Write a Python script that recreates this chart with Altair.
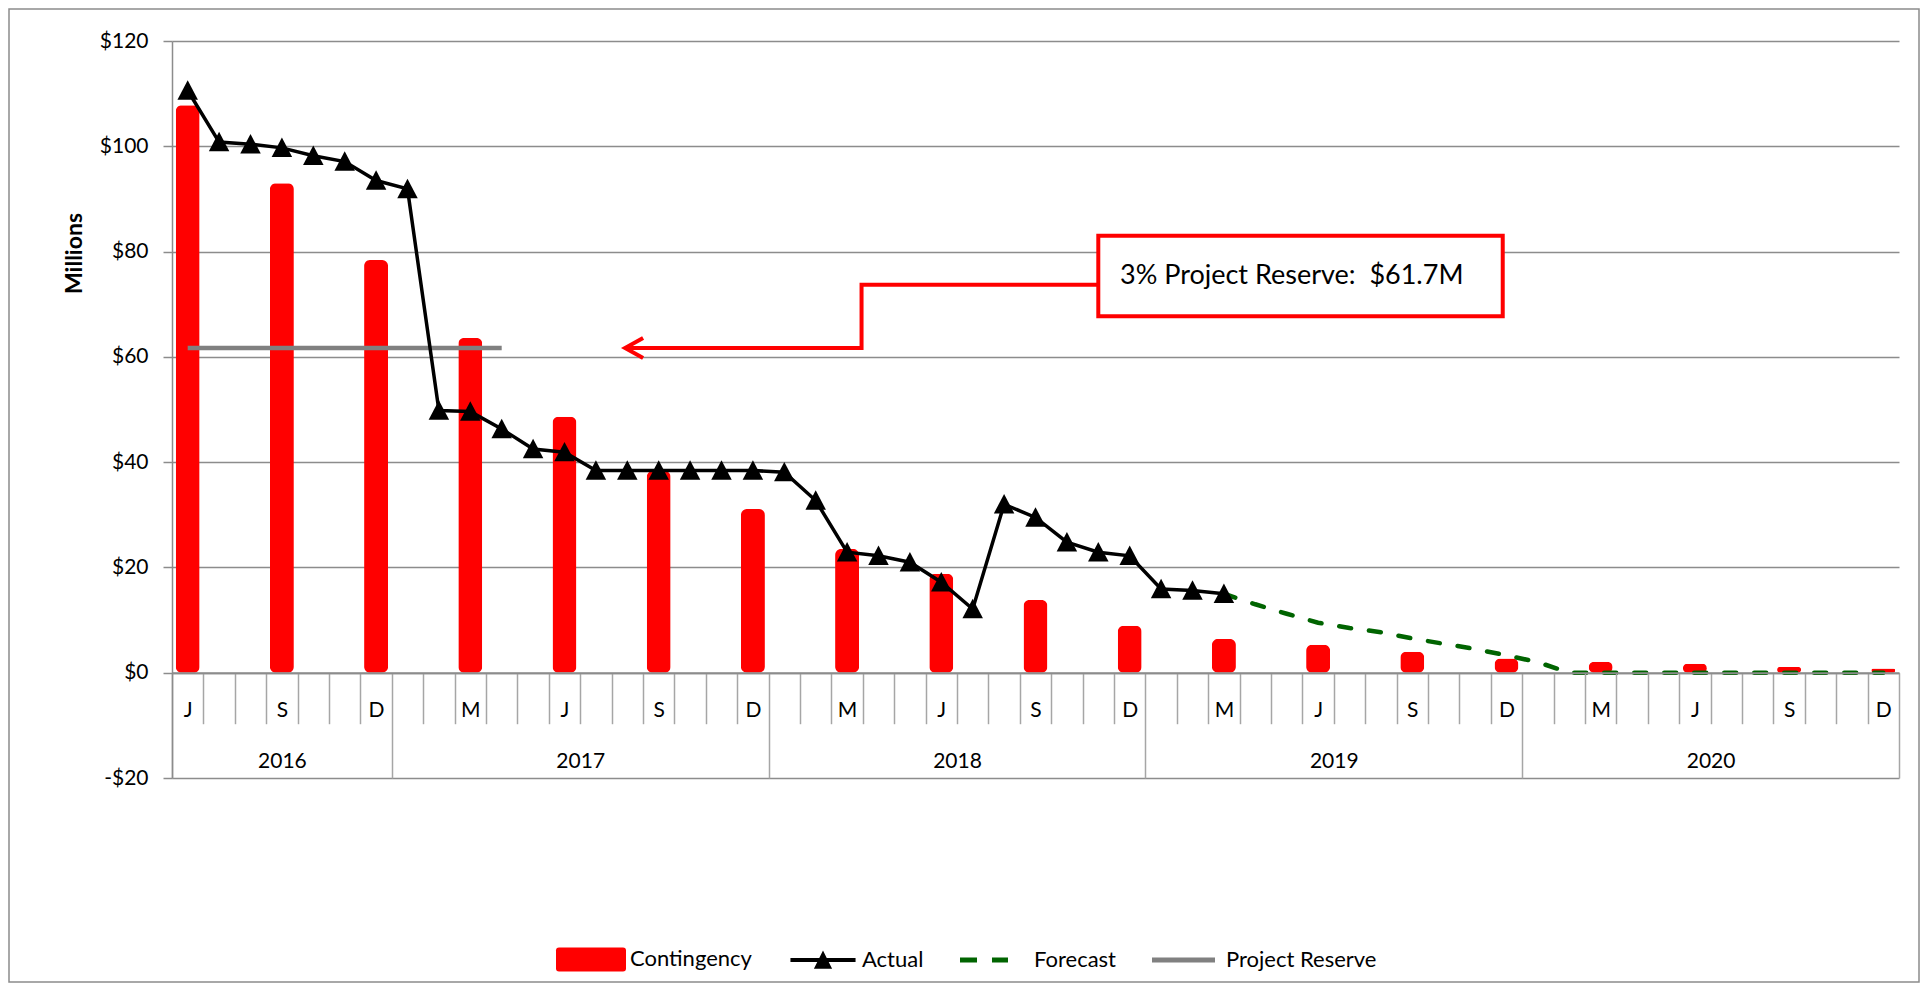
import altair as alt
import pandas as pd

# ---------------- data ----------------
# month index 0 = Jun 2016 ... 54 = Dec 2020
month_letters = ["J", "S", "D", "M", "J", "S", "D", "M", "J", "S", "D",
                 "M", "J", "S", "D", "M", "J", "S", "D"]          # every 3rd month from Jun 2016
years = ["2016", "2017", "2018", "2019", "2020"]
year_months = [7, 12, 12, 12, 12]

contingency = [107.8, 93.0, 78.4, 63.6, 48.6, 38.3, 31.1, 23.5, 18.8, 13.8,
               8.9, 6.4, 5.3, 4.0, 2.7, 2.1, 1.7, 1.1, 0.8]      # quarterly, from Jun 2016
actual = [110.6, 100.8, 100.4, 99.7, 98.2, 97.1, 93.5, 91.9, 49.8, 49.6,
          46.3, 42.5, 41.9, 38.4, 38.4, 38.4, 38.4, 38.4, 38.4, 38.1,
          32.7, 22.9, 22.2, 21.0, 17.2, 12.1, 32.0, 29.5, 24.8, 22.9,
          22.2, 15.9, 15.6, 15.0]                                 # monthly Jun 2016 .. Mar 2019
forecast_start = 33
forecast = [15.0, 13.0, 11.2, 9.5, 8.5, 7.7, 6.5, 5.5, 4.5, 3.3, 2.0, 0.0,
            0.0, 0.0, 0.0, 0.0, 0.0, 0.0, 0.0, 0.0, 0.0, 0.0]      # monthly Mar 2019 .. Dec 2020
reserve_value = 61.7
reserve_months = 11                                               # Jun 2016 .. Apr 2017
series_names = ["Contingency", "Actual", "Forecast", "Project Reserve"]
annotation_text = "3% Project Reserve:\u00a0 $61.7M"

# ---------------- tables ----------------
N_MONTHS = sum(year_months)
bars_df = pd.DataFrame({"pos": [i * 3 + 0.5 for i in range(len(contingency))], "value": contingency})
actual_df = pd.DataFrame({"pos": [i + 0.5 for i in range(len(actual))], "value": actual})
forecast_df = pd.DataFrame({"pos": [forecast_start + i + 0.5 for i in range(len(forecast))], "value": forecast})
reserve_df = pd.DataFrame({"pos": [i + 0.5 for i in range(reserve_months)], "value": [reserve_value] * reserve_months})

bounds = [0]
for m in year_months:
    bounds.append(bounds[-1] + m)
year_centers = [(bounds[i] + bounds[i + 1]) / 2 for i in range(len(years))]

# ---------------- geometry ----------------
W, H = 1727, 737
PAD_L, PAD_T, PAD_R, PAD_B = 164, 33, 21, 205
SVG_W, SVG_H = PAD_L + W + PAD_R, PAD_T + H + PAD_B
YMIN, YMAX = -20, 120
OFF = -H * (0 - YMIN) / (YMAX - YMIN)

xscale = alt.Scale(domain=[0, N_MONTHS], nice=False, zero=False, padding=0)
yscale = alt.Scale(domain=[YMIN, YMAX], nice=False, zero=False, padding=0)
GRID = "#8c8c8c"
TICK = "#a6a6a6"
FONT = "Lato"

month_tick_vals = [v for v in range(1, N_MONTHS) if v not in bounds]
axis_month_ticks = alt.Axis(orient="bottom", offset=OFF, values=month_tick_vals, tickSize=51,
                            tickColor=TICK, tickWidth=1.5, domain=True, domainColor=GRID,
                            domainWidth=2, labels=False, grid=False, title=None, zindex=1)
axis_year_sep = alt.Axis(orient="bottom", offset=OFF, values=bounds, tickSize=-OFF,
                         tickColor=TICK, tickWidth=1.5, domain=False, labels=False,
                         grid=False, title=None)
month_label_vals = [i * 3 + 0.5 for i in range(len(month_letters))]
month_expr = "[" + ",".join("'%s'" % m for m in month_letters) + "][round((datum.value - 0.5) / 3)]"
axis_month_labels = alt.Axis(orient="bottom", offset=OFF, values=month_label_vals, ticks=False,
                             tickSize=0, domain=False, grid=False, title=None, labelExpr=month_expr,
                             labelPadding=38, labelBaseline="middle", labelFontSize=21,
                             labelOverlap=False, labelFlush=False, labelColor="black")
year_expr = ""
for c, y in zip(year_centers, years):
    year_expr += "datum.value == %s ? '%s' : " % (c, y)
year_expr += "''"
axis_year_labels = alt.Axis(orient="bottom", offset=OFF, values=year_centers, ticks=False,
                            tickSize=0, domain=False, grid=False, title=None, labelExpr=year_expr,
                            labelPadding=89, labelBaseline="middle", labelFontSize=21,
                            labelOverlap=False, labelFlush=False, labelColor="black")
yaxis = alt.Axis(values=list(range(YMIN, YMAX + 1, 20)),
                 labelExpr="datum.value < 0 ? '-$' + abs(datum.value) : '$' + datum.value",
                 tickSize=9, tickColor=GRID, tickWidth=1.5, domainColor=GRID, domainWidth=1.5,
                 grid=True, gridColor=GRID, gridWidth=1.5, labelPadding=15, labelFontSize=21,
                 labelColor="black", title="Millions", titleFontSize=23, titleFontWeight="bold",
                 titleX=-98, titleY=212, titleBaseline="middle", titleAngle=-90, titleColor="black")

def X(field, axis=None):
    return alt.X(field, type="quantitative", scale=xscale, axis=axis)

def Y(field):
    return alt.Y(field, type="quantitative", scale=yscale, axis=yaxis)

# ---------------- layers ----------------
frame = alt.Chart(pd.DataFrame({"a": [0]})).mark_rect(
    fill="transparent", stroke=GRID, strokeWidth=1.5).encode(
    x=alt.value(1 - PAD_L), x2=alt.value(SVG_W - 1 - PAD_L),
    y=alt.value(1 - PAD_T), y2=alt.value(SVG_H - 1 - PAD_T))

bars = alt.Chart(bars_df).mark_bar(size=24, color="#ff0000", cornerRadius=6, y2Offset=6).encode(
    x=X("pos", axis_month_ticks), y=Y("value"))

reserve = alt.Chart(reserve_df).mark_line(color="#808080", strokeWidth=4.5).encode(
    x=X("pos", axis_year_labels), y=Y("value"))

fc = alt.Chart(forecast_df).mark_line(color="#006400", strokeWidth=4.5, strokeDash=[12, 18],
                                      strokeCap="round").encode(
    x=X("pos", axis_month_labels), y=Y("value"))

act_line = alt.Chart(actual_df).mark_line(color="black", strokeWidth=3.5).encode(
    x=X("pos", axis_year_sep), y=Y("value"))

act_pts = alt.Chart(actual_df).mark_point(shape="M0,-1L1,0.9L-1,0.9Z", size=420, filled=True,
                                          color="black", opacity=1).encode(
    x=X("pos"), y=Y("value"))

# annotation (in data units)
box_df = pd.DataFrame({"x": [29.5], "x2": [42.38], "y": [83.0], "y2": [67.7]})
box = alt.Chart(box_df).mark_rect(fill="white", stroke="#ff0000", strokeWidth=4).encode(
    x=X("x"), x2="x2", y=Y("y"), y2="y2")
arrow_df = pd.DataFrame({"x": [29.5, 21.96, 21.96, 14.43],
                         "y": [73.7, 73.7, reserve_value, reserve_value],
                         "o": [0, 1, 2, 3]})
arrow = alt.Chart(arrow_df).mark_line(color="#ff0000", strokeWidth=4, strokeJoin="miter").encode(
    x=X("x"), y=Y("y"), order="o:Q")
head = alt.Chart(arrow_df.iloc[[3]]).mark_point(shape="M1,-0.556L0,0L1,0.556", size=1296,
                                               filled=False, color="#ff0000", strokeWidth=4,
                                               opacity=1).encode(x=X("x"), y=Y("y"))
txt_df = pd.DataFrame({"x": [30.19], "y": [75.4], "t": [annotation_text]})
txt = alt.Chart(txt_df).mark_text(align="left", baseline="middle", fontSize=27, font=FONT,
                                  color="black").encode(x=X("x"), y=Y("y"), text="t:N")

# legend
leg_paths = [
    "M-0.914,-0.343L0.914,-0.343Q1,-0.343 1,-0.257L1,0.257Q1,0.343 0.914,0.343L-0.914,0.343Q-1,0.343 -1,0.257L-1,-0.257Q-1,-0.343 -0.914,-0.343Z",
    "M-0.93,-0.06L0.93,-0.06L0.93,0.06L-0.93,0.06Z M0,-0.27L0.26,0.25L-0.26,0.25Z",
    "M-1,-0.07L-0.514,-0.07L-0.514,0.07L-1,0.07Z M-0.086,-0.07L0.371,-0.07L0.371,0.07L-0.086,0.07Z",
    "M-1,-0.07L0.8,-0.07L0.8,0.07L-1,0.07Z",
]
leg_colors = ["#ff0000", "black", "#006400", "#808080"]
leg = alt.Legend(orient="none", legendX=384, legendY=883, direction="horizontal", columns=4,
                 title=None, symbolSize=4900, symbolStrokeWidth=0, symbolOpacity=1,
                 labelFontSize=22, labelFont=FONT, labelOffset=4, columnPadding=36,
                 labelColor="black", padding=0)
legend_layer = alt.Chart(pd.DataFrame({"series": series_names})).mark_point(
    filled=True, opacity=0).encode(
    color=alt.Color("series:N", scale=alt.Scale(domain=series_names, range=leg_colors), legend=leg),
    shape=alt.Shape("series:N", scale=alt.Scale(domain=series_names, range=leg_paths), legend=leg))

chart = alt.layer(frame, bars, reserve, fc, act_line, act_pts, box, arrow, head, txt, legend_layer
                  ).resolve_axis(x="independent").properties(
    width=W, height=H,
    padding={"left": PAD_L, "top": PAD_T, "right": PAD_R, "bottom": PAD_B},
    autosize=alt.AutoSizeParams(type="none"),
    background="white",
).configure_view(stroke="transparent").configure_axis(
    labelFont=FONT, titleFont=FONT).configure_legend(labelFont=FONT).configure_text(font=FONT)

chart.save("out.html", embed_options={"renderer": "svg", "actions": False})
